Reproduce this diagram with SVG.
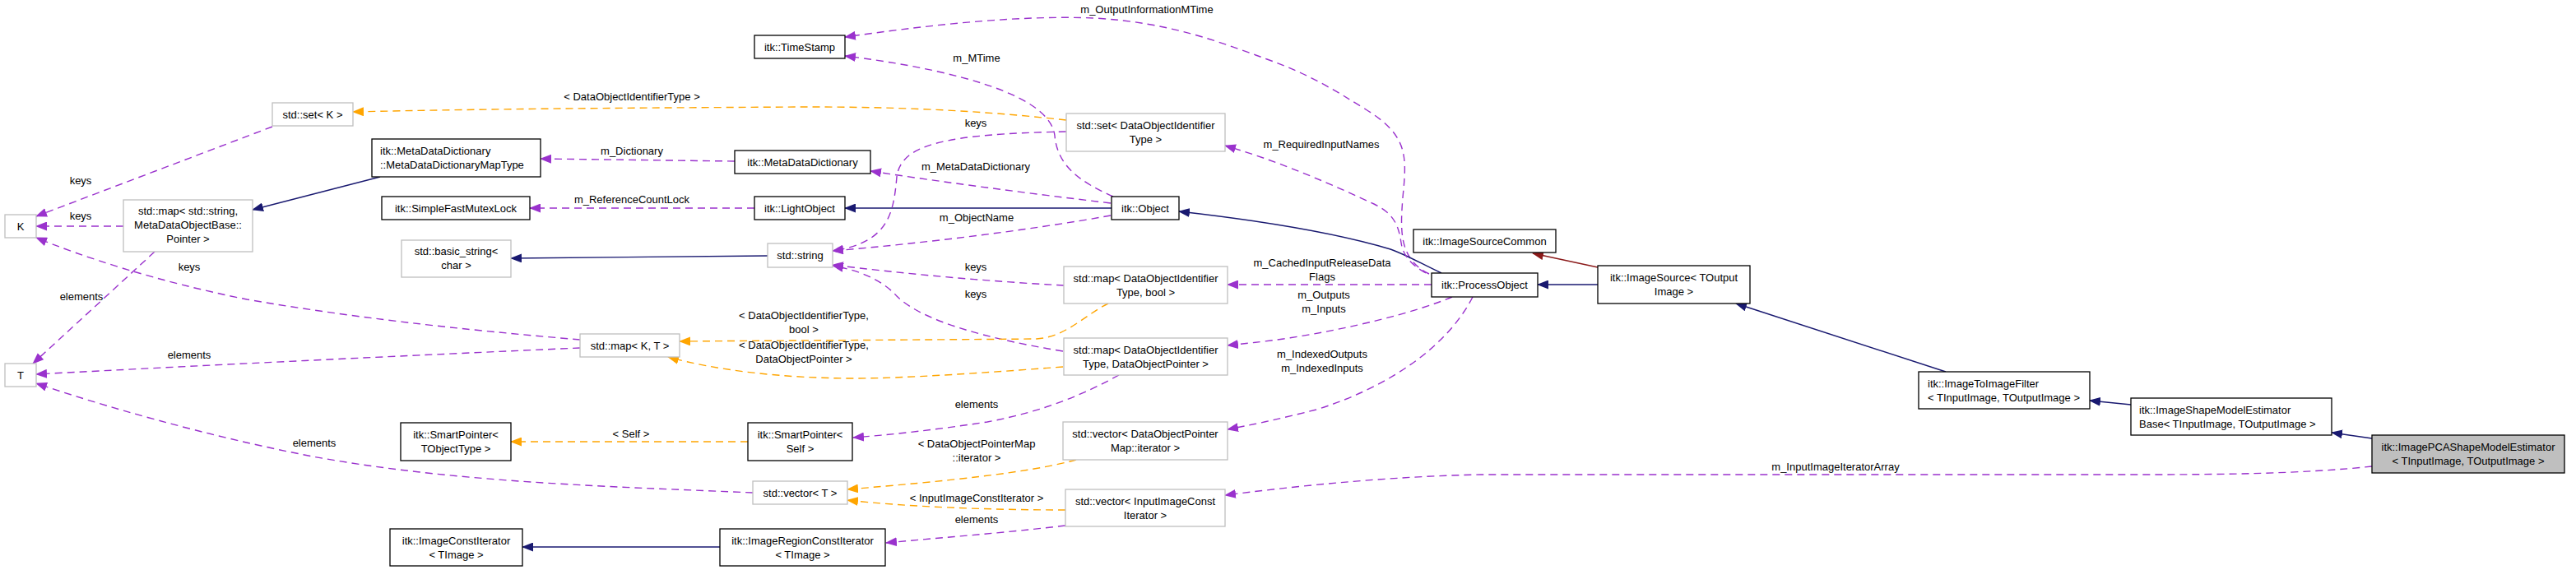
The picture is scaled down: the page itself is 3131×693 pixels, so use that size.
<svg xmlns="http://www.w3.org/2000/svg" width="3131" height="693" viewBox="0 0 3131 693">
<style>
text{font-family:"Liberation Sans",Arial,Helvetica,sans-serif;font-size:13px;fill:#000}
.m{text-anchor:middle}
.node rect{fill:#fff;stroke:#000;stroke-width:1.3}
.gray rect{stroke:#bfbfbf}
.main rect{fill:#bfbfbf}
#edges path{fill:none;stroke-width:1.4}
.u{stroke:#9a32cd;stroke-dasharray:9,6;marker-end:url(#mu)}
.t{stroke:#ffa500;stroke-dasharray:9,6;marker-end:url(#mt)}
.i{stroke:#191970;marker-end:url(#mi)}
.r{stroke:#8b1a1a;marker-end:url(#mr)}
</style>
<defs>
<marker id="mu" viewBox="0 0 14 11" markerWidth="14" markerHeight="11" refX="13" refY="5.5" orient="auto" markerUnits="userSpaceOnUse"><path d="M0,0 L14,5.5 L0,11 z" fill="#9a32cd"/></marker>
<marker id="mt" viewBox="0 0 14 11" markerWidth="14" markerHeight="11" refX="13" refY="5.5" orient="auto" markerUnits="userSpaceOnUse"><path d="M0,0 L14,5.5 L0,11 z" fill="#ffa500"/></marker>
<marker id="mi" viewBox="0 0 14 11" markerWidth="14" markerHeight="11" refX="13" refY="5.5" orient="auto" markerUnits="userSpaceOnUse"><path d="M0,0 L14,5.5 L0,11 z" fill="#191970"/></marker>
<marker id="mr" viewBox="0 0 14 11" markerWidth="14" markerHeight="11" refX="13" refY="5.5" orient="auto" markerUnits="userSpaceOnUse"><path d="M0,0 L14,5.5 L0,11 z" fill="#8b1a1a"/></marker>
</defs>
<rect width="3131" height="693" fill="#fff"/>
<g id="edges">
<path class="u" d="M331,154 L44,263"/>
<path class="u" d="M150,275 L44,275"/>
<path class="u" d="M705,413 C600,404 450,390 300,364 C190,342 100,312 44,289"/>
<path class="u" d="M188,306 L40,442"/>
<path class="u" d="M705,423 C500,432 250,444 44,455"/>
<path class="u" d="M915,599 C760,592 560,588 380,555 C250,530 120,492 44,466"/>
<path class="t" d="M1296,146 C1180,133 1080,130 980,130 C800,131 600,132 429,136"/>
<path class="u" d="M893,196 L657,193"/>
<path class="u" d="M917,253 L644,253"/>
<path class="i" d="M1351,253 L1027,253"/>
<path class="i" d="M933,311 L621,314"/>
<path class="i" d="M462,215 L307,255"/>
<path class="u" d="M1350,247 C1250,235 1150,222 1058,208"/>
<path class="u" d="M1350,262 C1250,280 1120,296 1012,305"/>
<path class="u" d="M1296,160 C1150,163 1095,175 1090,215 C1086,260 1080,295 1012,305"/>
<path class="u" d="M1293,347 C1200,342 1100,333 1012,322"/>
<path class="u" d="M1292,427 C1200,412 1120,390 1090,360 C1070,338 1040,328 1012,323"/>
<path class="u" d="M1737,333 C1700,315 1702,280 1705,240 C1710,190 1712,165 1660,133 C1620,108 1590,90 1540,72 C1480,50 1420,27 1330,22 C1230,18 1120,32 1027,45"/>
<path class="u" d="M1353,239 C1310,220 1285,200 1282,165 C1278,130 1220,105 1140,87 C1100,78 1060,72 1027,68"/>
<path class="i" d="M1752,332 C1730,322 1710,310 1690,303 C1620,282 1530,268 1433,257"/>
<path class="u" d="M1733,332 C1715,322 1705,310 1703,295 C1700,275 1695,260 1670,248 C1620,225 1560,198 1489,177"/>
<path class="u" d="M1740,346 L1492,346"/>
<path class="u" d="M1765,361 C1720,380 1640,400 1560,412 C1530,416 1510,418 1492,420"/>
<path class="u" d="M1790,361 C1760,420 1690,470 1600,498 C1560,508 1530,515 1492,522"/>
<path class="u" d="M2883,567 C2800,576 2700,577 2600,577 L1800,577 C1700,579 1600,588 1489,602"/>
<path class="i" d="M1942,346 L1869,346"/>
<path class="r" d="M1942,325 L1863,308"/>
<path class="i" d="M2365,452 L2110,369"/>
<path class="i" d="M2590,492 L2540,487"/>
<path class="i" d="M2883,533 L2834,526"/>
<path class="t" d="M1347,369 C1320,382 1295,410 1260,412 C1150,413 950,414 826,415"/>
<path class="t" d="M1292,446 C1200,453 1100,460 1040,460 C950,460 870,450 812,434"/>
<path class="t" d="M1308,559 C1250,575 1150,585 1030,595"/>
<path class="t" d="M1295,620 C1200,620 1100,616 1030,608"/>
<path class="u" d="M1295,639 C1220,648 1150,653 1077,660"/>
<path class="u" d="M1360,456 C1320,478 1270,500 1200,513 C1140,522 1090,528 1037,532"/>
<path class="t" d="M909,537 L621,537"/>
<path class="i" d="M875,665 L635,665"/>
<g id="edge-labels">
<text class="m" x="98" y="224">keys</text>
<text class="m" x="98" y="267">keys</text>
<text class="m" x="230" y="329">keys</text>
<text class="m" x="99" y="365">elements</text>
<text class="m" x="230" y="436">elements</text>
<text class="m" x="382" y="543">elements</text>
<text class="m" x="768" y="122">&lt; DataObjectIdentifierType &gt;</text>
<text class="m" x="768" y="188">m_Dictionary</text>
<text class="m" x="768" y="247">m_ReferenceCountLock</text>
<text class="m" x="1394" y="16">m_OutputInformationMTime</text>
<text class="m" x="1187" y="75">m_MTime</text>
<text class="m" x="1186" y="154">keys</text>
<text class="m" x="1186" y="207">m_MetaDataDictionary</text>
<text class="m" x="1187" y="269">m_ObjectName</text>
<text class="m" x="1186" y="329">keys</text>
<text class="m" x="1186" y="362">keys</text>
<text class="m" x="1606" y="180">m_RequiredInputNames</text>
<text class="m" x="1607" y="324">m_CachedInputReleaseData</text>
<text class="m" x="1607" y="341">Flags</text>
<text class="m" x="1609" y="363">m_Outputs</text>
<text class="m" x="1609" y="380">m_Inputs</text>
<text class="m" x="1607" y="435">m_IndexedOutputs</text>
<text class="m" x="1607" y="452">m_IndexedInputs</text>
<text class="m" x="977" y="388">&lt; DataObjectIdentifierType,</text>
<text class="m" x="977" y="405">bool &gt;</text>
<text class="m" x="977" y="424">&lt; DataObjectIdentifierType,</text>
<text class="m" x="977" y="441">DataObjectPointer &gt;</text>
<text class="m" x="1187" y="496">elements</text>
<text class="m" x="767" y="532">&lt; Self &gt;</text>
<text class="m" x="1187" y="544">&lt; DataObjectPointerMap</text>
<text class="m" x="1187" y="561">::iterator &gt;</text>
<text class="m" x="1187" y="610">&lt; InputImageConstIterator &gt;</text>
<text class="m" x="1187" y="636">elements</text>
<text class="m" x="2231" y="572">m_InputImageIteratorArray</text>
</g>
</g>
<g id="n_setK" class="node gray"><rect x="331" y="125" width="98" height="28"/><text class="m" x="380" y="143.5">std::set&lt; K &gt;</text></g>
<g id="n_MapType" class="node"><rect x="452" y="169" width="205" height="46"/><text x="462" y="188">itk::MetaDataDictionary</text><text x="462" y="205">::MetaDataDictionaryMapType</text></g>
<g id="n_Mutex" class="node"><rect x="464" y="239" width="180" height="28"/><text class="m" x="554" y="257.5">itk::SimpleFastMutexLock</text></g>
<g id="n_basic_string" class="node gray"><rect x="488" y="292" width="133" height="45"/><text class="m" x="554.5" y="310">std::basic_string&lt;</text><text class="m" x="554.5" y="327">char &gt;</text></g>
<g id="n_K" class="node gray"><rect x="6" y="261" width="38" height="28"/><text class="m" x="25" y="279.5">K</text></g>
<g id="n_mapString" class="node gray"><rect x="150" y="243" width="157" height="63"/><text class="m" x="228.5" y="261">std::map&lt; std::string,</text><text class="m" x="228.5" y="278">MetaDataObjectBase::</text><text class="m" x="228.5" y="295">Pointer &gt;</text></g>
<g id="n_T" class="node gray"><rect x="6" y="442" width="38" height="28"/><text class="m" x="25" y="460.5">T</text></g>
<g id="n_TimeStamp" class="node"><rect x="917" y="43" width="110" height="28"/><text class="m" x="972" y="61.5">itk::TimeStamp</text></g>
<g id="n_MetaDataDictionary" class="node"><rect x="893" y="183" width="165" height="28"/><text class="m" x="975.5" y="201.5">itk::MetaDataDictionary</text></g>
<g id="n_LightObject" class="node"><rect x="917" y="239" width="110" height="28"/><text class="m" x="972" y="257.5">itk::LightObject</text></g>
<g id="n_string" class="node gray"><rect x="933" y="296" width="79" height="29"/><text class="m" x="972.5" y="315">std::string</text></g>
<g id="n_setDOIT" class="node gray"><rect x="1296" y="138" width="193" height="46"/><text class="m" x="1392.5" y="156.5">std::set&lt; DataObjectIdentifier</text><text class="m" x="1392.5" y="173.5">Type &gt;</text></g>
<g id="n_Object" class="node"><rect x="1351" y="239" width="82" height="28"/><text class="m" x="1392" y="257.5">itk::Object</text></g>
<g id="n_mapBool" class="node gray"><rect x="1293" y="324" width="199" height="45"/><text class="m" x="1392.5" y="342.5">std::map&lt; DataObjectIdentifier</text><text class="m" x="1392.5" y="359.5">Type, bool &gt;</text></g>
<g id="n_ImageSourceCommon" class="node"><rect x="1718" y="279" width="173" height="28"/><text class="m" x="1804.5" y="297.5">itk::ImageSourceCommon</text></g>
<g id="n_ProcessObject" class="node"><rect x="1740" y="332" width="129" height="29"/><text class="m" x="1804.5" y="351">itk::ProcessObject</text></g>
<g id="n_ImageSource" class="node"><rect x="1942" y="323" width="185" height="46"/><text class="m" x="2034.5" y="341.5">itk::ImageSource&lt; TOutput</text><text class="m" x="2034.5" y="358.5">Image &gt;</text></g>
<g id="n_mapDOP" class="node gray"><rect x="1293" y="411" width="199" height="45"/><text class="m" x="1392.5" y="429.5">std::map&lt; DataObjectIdentifier</text><text class="m" x="1392.5" y="446.5">Type, DataObjectPointer &gt;</text></g>
<g id="n_vecDOPMap" class="node gray"><rect x="1292" y="513" width="200" height="46"/><text class="m" x="1392" y="531.5">std::vector&lt; DataObjectPointer</text><text class="m" x="1392" y="548.5">Map::iterator &gt;</text></g>
<g id="n_vecIIC" class="node gray"><rect x="1295" y="595" width="194" height="45"/><text class="m" x="1392" y="613.5">std::vector&lt; InputImageConst</text><text class="m" x="1392" y="630.5">Iterator &gt;</text></g>
<g id="n_mapKT" class="node gray"><rect x="705" y="406" width="121" height="28"/><text class="m" x="765.5" y="424.5">std::map&lt; K, T &gt;</text></g>
<g id="n_SPTObj" class="node"><rect x="487" y="514" width="134" height="46"/><text class="m" x="554" y="532.5">itk::SmartPointer&lt;</text><text class="m" x="554" y="549.5">TObjectType &gt;</text></g>
<g id="n_SPSelf" class="node"><rect x="909" y="514" width="127" height="46"/><text class="m" x="972.5" y="532.5">itk::SmartPointer&lt;</text><text class="m" x="972.5" y="549.5">Self &gt;</text></g>
<g id="n_vecT" class="node gray"><rect x="915" y="585" width="115" height="28"/><text class="m" x="972.5" y="603.5">std::vector&lt; T &gt;</text></g>
<g id="n_ImageConstIterator" class="node"><rect x="474" y="643" width="161" height="45"/><text class="m" x="554.5" y="661.5">itk::ImageConstIterator</text><text class="m" x="554.5" y="678.5">&lt; TImage &gt;</text></g>
<g id="n_ImageRegionConstIterator" class="node"><rect x="875" y="643" width="201" height="45"/><text class="m" x="975.5" y="661.5">itk::ImageRegionConstIterator</text><text class="m" x="975.5" y="678.5">&lt; TImage &gt;</text></g>
<g id="n_ImageToImageFilter" class="node"><rect x="2332" y="452" width="208" height="45"/><text x="2343" y="470.5">itk::ImageToImageFilter</text><text x="2343" y="487.5">&lt; TInputImage, TOutputImage &gt;</text></g>
<g id="n_EstimatorBase" class="node"><rect x="2590" y="484" width="244" height="45"/><text x="2600" y="502.5">itk::ImageShapeModelEstimator</text><text x="2600" y="519.5">Base&lt; TInputImage, TOutputImage &gt;</text></g>
<g id="n_PCA" class="node main"><rect x="2883" y="529" width="234" height="46"/><text class="m" x="3000" y="547.5">itk::ImagePCAShapeModelEstimator</text><text class="m" x="3000" y="564.5">&lt; TInputImage, TOutputImage &gt;</text></g>
</svg>
